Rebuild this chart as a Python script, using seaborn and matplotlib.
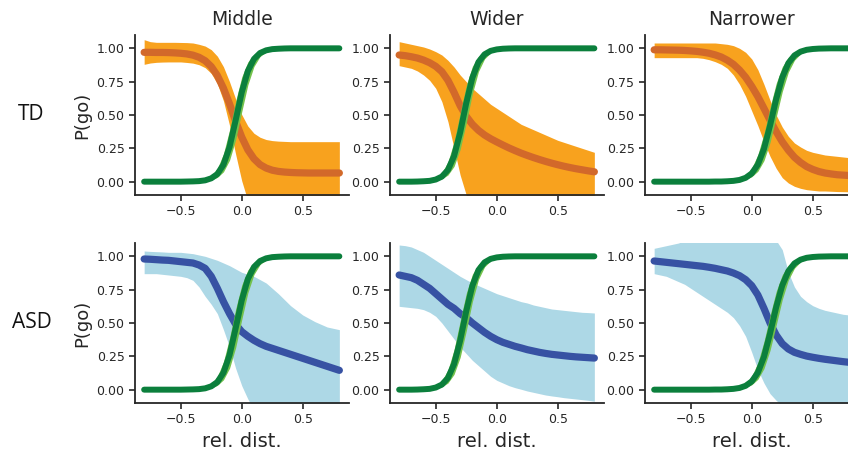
import numpy as np
import matplotlib
matplotlib.use("Agg")
import matplotlib.pyplot as plt
import seaborn as sns

# relative distance grid (-0.8 .. 0.8, step 0.05)
x = np.round(np.linspace(-0.8, 0.8, 33), 2)

conditions = ["Middle", "Wider", "Narrower"]
groups = ["TD", "ASD"]

# P(go) of the reference (green) curve, one per condition, with its band
green_mid = [0, 0, 0, 0, 0, 0, 0, 0.001, 0.002, 0.004, 0.010, 0.025, 0.057, 0.127, 0.26, 0.46, 0.67,
             0.83, 0.92, 0.965, 0.985, 0.994, 0.997, 0.999, 1, 1, 1, 1, 1, 1, 1, 1, 1]
green_mid_hi = [0, 0, 0, 0, 0, 0, 0.001, 0.001, 0.003, 0.008, 0.019, 0.044, 0.10, 0.209, 0.389, 0.605, 0.786,
                0.898, 0.955, 0.981, 0.992, 0.997, 0.999, 1, 1, 1, 1, 1, 1, 1, 1, 1, 1]
green_mid_lo = [0, 0, 0, 0, 0, 0, 0, 0, 0.001, 0.002, 0.006, 0.014, 0.032, 0.074, 0.161, 0.315, 0.525,
                0.726, 0.864, 0.939, 0.973, 0.989, 0.995, 0.998, 0.999, 1, 1, 1, 1, 1, 1, 1, 1]

green_wide = [0, 0, 0, 0.001, 0.003, 0.006, 0.016, 0.038, 0.088, 0.192, 0.368, 0.589, 0.779, 0.897, 0.955, 0.981, 0.992,
              0.997, 0.999, 1, 1, 1, 1, 1, 1, 1, 1, 1, 1, 1, 1, 1, 1]
green_wide_hi = [0, 0, 0.001, 0.002, 0.005, 0.012, 0.028, 0.067, 0.149, 0.301, 0.515, 0.723, 0.865, 0.940, 0.975, 0.990, 0.996,
                 0.998, 0.999, 1, 1, 1, 1, 1, 1, 1, 1, 1, 1, 1, 1, 1, 1]
green_wide_lo = [0, 0, 0, 0.001, 0.001, 0.004, 0.009, 0.021, 0.050, 0.115, 0.242, 0.440, 0.659, 0.826, 0.921, 0.966, 0.986,
                 0.994, 0.998, 0.999, 1, 1, 1, 1, 1, 1, 1, 1, 1, 1, 1, 1, 1]

green_narrow = [0, 0, 0, 0, 0, 0, 0, 0, 0, 0, 0.001, 0.001, 0.003, 0.006, 0.013, 0.029, 0.062,
                0.128, 0.246, 0.421, 0.618, 0.782, 0.889, 0.947, 0.975, 0.989, 0.995, 0.998, 0.999, 1, 1, 1, 1]
green_narrow_hi = [0, 0, 0, 0, 0, 0, 0, 0, 0, 0, 0.001, 0.002, 0.005, 0.010, 0.022, 0.049, 0.102,
                   0.203, 0.361, 0.557, 0.737, 0.862, 0.933, 0.969, 0.986, 0.994, 0.997, 0.999, 1, 1, 1, 1, 1]
green_narrow_lo = [0, 0, 0, 0, 0, 0, 0, 0, 0, 0, 0, 0.001, 0.002, 0.003, 0.008, 0.017, 0.037,
                   0.078, 0.158, 0.295, 0.483, 0.675, 0.822, 0.911, 0.958, 0.981, 0.991, 0.996, 0.998, 0.999, 1, 1, 1]

# TD fits (orange)
td_mid = [0.970, 0.970, 0.969, 0.969, 0.968, 0.966, 0.963, 0.958, 0.949, 0.933, 0.907, 0.863, 0.796, 0.701, 0.583, 0.452, 0.334,
          0.239, 0.172, 0.128, 0.102, 0.086, 0.077, 0.072, 0.069, 0.067, 0.066, 0.065, 0.065, 0.065, 0.065, 0.065, 0.065]
td_mid_hi = [1.065, 1.05, 1.045, 1.045, 1.045, 1.045, 1.044, 1.043, 1.040, 1.030, 1.017, 0.990, 0.941, 0.862, 0.749, 0.620, 0.503,
             0.417, 0.363, 0.333, 0.316, 0.308, 0.304, 0.302, 0.30, 0.30, 0.30, 0.30, 0.30, 0.30, 0.30, 0.30, 0.30]
td_mid_lo = [0.88, 0.89, 0.895, 0.897, 0.898, 0.898, 0.898, 0.894, 0.889, 0.877, 0.855, 0.812, 0.735, 0.606, 0.422, 0.206, 0.006,
             -0.144, -0.239, -0.29, -0.32, -0.335, -0.34, -0.345, -0.345, -0.345, -0.345, -0.345, -0.345, -0.345, -0.345, -0.345, -0.345]

td_wide = [0.95, 0.945, 0.937, 0.927, 0.912, 0.892, 0.865, 0.825, 0.76, 0.67, 0.57, 0.49, 0.43, 0.385, 0.35, 0.322, 0.298,
           0.275, 0.253, 0.233, 0.214, 0.197, 0.181, 0.166, 0.152, 0.139, 0.127, 0.116, 0.106, 0.097, 0.089, 0.081, 0.074]
td_wide_hi = [1.05, 1.04, 1.03, 1.02, 1.01, 0.995, 0.975, 0.95, 0.91, 0.86, 0.80, 0.75, 0.70, 0.66, 0.62, 0.58, 0.55,
              0.52, 0.49, 0.46, 0.43, 0.41, 0.39, 0.37, 0.35, 0.33, 0.31, 0.295, 0.28, 0.265, 0.25, 0.235, 0.22]
td_wide_lo = [0.87, 0.86, 0.85, 0.83, 0.80, 0.76, 0.70, 0.60, 0.45, 0.25, 0.05, -0.10, -0.20, -0.26, -0.29, -0.30, -0.30,
              -0.30, -0.30, -0.30, -0.30, -0.30, -0.30, -0.30, -0.30, -0.30, -0.30, -0.30, -0.30, -0.30, -0.30, -0.30, -0.30]

td_narrow = [0.989, 0.989, 0.988, 0.987, 0.986, 0.984, 0.981, 0.977, 0.971, 0.963, 0.951, 0.935, 0.911, 0.880, 0.837, 0.783, 0.715,
             0.638, 0.550, 0.461, 0.376, 0.299, 0.236, 0.183, 0.144, 0.113, 0.092, 0.076, 0.065, 0.058, 0.052, 0.049, 0.046]
td_narrow_hi = [1.04, 1.04, 1.04, 1.04, 1.04, 1.04, 1.04, 1.04, 1.04, 1.04, 1.04, 1.035, 1.03, 1.02, 1.0, 0.97, 0.92,
                0.84, 0.73, 0.61, 0.50, 0.41, 0.34, 0.29, 0.26, 0.235, 0.22, 0.21, 0.20, 0.195, 0.19, 0.185, 0.18]
td_narrow_lo = [0.93, 0.93, 0.93, 0.93, 0.93, 0.93, 0.93, 0.93, 0.925, 0.915, 0.90, 0.88, 0.85, 0.80, 0.73, 0.64, 0.53,
                0.42, 0.30, 0.19, 0.10, 0.03, -0.01, -0.035, -0.05, -0.06, -0.065, -0.07, -0.07, -0.072, -0.074, -0.075, -0.076]

# ASD fits (blue)
asd_mid = [0.98, 0.978, 0.975, 0.972, 0.97, 0.965, 0.96, 0.955, 0.95, 0.935, 0.91, 0.85, 0.76, 0.66, 0.57, 0.49, 0.435,
           0.40, 0.37, 0.345, 0.325, 0.31, 0.295, 0.28, 0.265, 0.25, 0.235, 0.22, 0.205, 0.19, 0.175, 0.16, 0.145]
asd_mid_hi = [1.04, 1.037, 1.035, 1.033, 1.03, 1.03, 1.03, 1.025, 1.02, 1.01, 1.0, 0.985, 0.97, 0.95, 0.93, 0.905, 0.88,
              0.865, 0.85, 0.825, 0.80, 0.76, 0.72, 0.675, 0.63, 0.595, 0.56, 0.535, 0.51, 0.49, 0.47, 0.46, 0.45]
asd_mid_lo = [0.87, 0.87, 0.87, 0.865, 0.86, 0.855, 0.85, 0.84, 0.82, 0.77, 0.70, 0.64, 0.57, 0.45, 0.32, 0.16, 0.03,
              -0.07, -0.15, -0.2, -0.2, -0.2, -0.2, -0.2, -0.2, -0.2, -0.2, -0.2, -0.2, -0.2, -0.2, -0.2, -0.2]

asd_wide = [0.86, 0.85, 0.84, 0.82, 0.79, 0.76, 0.72, 0.68, 0.64, 0.61, 0.57, 0.54, 0.50, 0.465, 0.43, 0.40, 0.375,
            0.355, 0.34, 0.325, 0.313, 0.30, 0.29, 0.28, 0.272, 0.265, 0.26, 0.255, 0.25, 0.246, 0.243, 0.24, 0.237]
asd_wide_hi = [1.085, 1.08, 1.07, 1.05, 1.03, 1.0, 0.97, 0.94, 0.91, 0.88, 0.85, 0.825, 0.80, 0.78, 0.76, 0.74, 0.72,
               0.705, 0.69, 0.675, 0.66, 0.65, 0.635, 0.625, 0.615, 0.605, 0.60, 0.595, 0.59, 0.585, 0.58, 0.578, 0.575]
asd_wide_lo = [0.625, 0.62, 0.615, 0.61, 0.60, 0.58, 0.55, 0.50, 0.44, 0.38, 0.32, 0.27, 0.22, 0.18, 0.14, 0.10, 0.07,
               0.05, 0.03, 0.015, 0.003, -0.01, -0.02, -0.03, -0.04, -0.047, -0.053, -0.06, -0.065, -0.07, -0.075, -0.08, -0.087]

asd_narrow = [0.965, 0.96, 0.955, 0.95, 0.945, 0.94, 0.935, 0.93, 0.925, 0.918, 0.91, 0.90, 0.89, 0.875, 0.855, 0.825, 0.78,
              0.71, 0.61, 0.50, 0.41, 0.345, 0.305, 0.28, 0.265, 0.252, 0.243, 0.235, 0.228, 0.222, 0.216, 0.21, 0.205]
asd_narrow_hi = [1.06, 1.07, 1.08, 1.09, 1.1, 1.12, 1.12, 1.12, 1.12, 1.12, 1.12, 1.12, 1.12, 1.12, 1.12, 1.12, 1.12,
                 1.12, 1.12, 1.12, 1.12, 1.05, 0.88, 0.77, 0.70, 0.66, 0.63, 0.61, 0.595, 0.585, 0.575, 0.565, 0.56]
asd_narrow_lo = [0.87, 0.86, 0.85, 0.83, 0.81, 0.79, 0.76, 0.73, 0.70, 0.67, 0.64, 0.61, 0.58, 0.54, 0.48, 0.40, 0.28,
                 0.15, 0.05, -0.03, -0.08, -0.12, -0.15, -0.15, -0.15, -0.15, -0.15, -0.15, -0.15, -0.15, -0.15, -0.15, -0.15]

greens = [(green_mid, green_mid_lo, green_mid_hi),
          (green_wide, green_wide_lo, green_wide_hi),
          (green_narrow, green_narrow_lo, green_narrow_hi)]
fits = {"TD": [(td_mid, td_mid_lo, td_mid_hi), (td_wide, td_wide_lo, td_wide_hi), (td_narrow, td_narrow_lo, td_narrow_hi)],
        "ASD": [(asd_mid, asd_mid_lo, asd_mid_hi), (asd_wide, asd_wide_lo, asd_wide_hi), (asd_narrow, asd_narrow_lo, asd_narrow_hi)]}

colors = {"TD": ("#D2692A", "#F8A21E"), "ASD": ("#3752A3", "#ADD8E6")}
green_dark = "#0B7F3C"
green_light = "#74C24C"

sns.set_style("ticks")
plt.rcParams["font.family"] = ["DejaVu Sans"]

fig = plt.figure(figsize=(8.48, 4.5), dpi=100)

lefts = [135 / 848, 390 / 848, 645 / 848]
bottoms = {"TD": 1 - 195 / 450, "ASD": 1 - 403 / 450}
w, h = 213.5 / 848, 160 / 450

for g in groups:
    for j, cond in enumerate(conditions):
        ax = fig.add_axes([lefts[j], bottoms[g], w, h])
        line, lo, hi = fits[g][j]
        lc, fc = colors[g]
        ax.fill_between(x, lo, hi, color=fc, linewidth=0, zorder=1)
        sns.lineplot(x=x, y=line, ax=ax, color=lc, linewidth=5.2, zorder=2)
        gl, glo, ghi = greens[j]
        ax.fill_between(x, glo, ghi, color=green_light, linewidth=0, zorder=3)
        sns.lineplot(x=x, y=gl, ax=ax, color=green_dark, linewidth=4.3, zorder=4)

        ax.set_xlim(-0.875, 0.875)
        ax.set_ylim(-0.1, 1.1)
        ax.set_xticks([-0.5, 0.0, 0.5])
        ax.set_yticks([0.0, 0.25, 0.5, 0.75, 1.0])
        ax.set_yticklabels(["0.00", "0.25", "0.50", "0.75", "1.00"])
        ax.tick_params(labelsize=9, width=1.2, length=4, colors="#262626")
        for s in ["left", "bottom"]:
            ax.spines[s].set_linewidth(1.3)
            ax.spines[s].set_color("#262626")
        sns.despine(ax=ax)

        if g == "TD":
            ax.set_title(cond, fontsize=13.5, color="#262626", pad=7)
        if g == "ASD":
            ax.set_xlabel("rel. dist.", fontsize=14, color="#262626")
        else:
            ax.set_xlabel("")
        if j == 0:
            ax.set_ylabel("P(go)", fontsize=13, color="#262626")

fig.text(31 / 848, 1 - 115 / 450, "TD", fontsize=15, family=["Open Sans", "DejaVu Sans"],
         ha="center", va="center", color="#111111")
fig.text(32 / 848, 1 - 323 / 450, "ASD", fontsize=15, family=["Open Sans", "DejaVu Sans"],
         ha="center", va="center", color="#111111")

fig.savefig("out.png", dpi=100)
